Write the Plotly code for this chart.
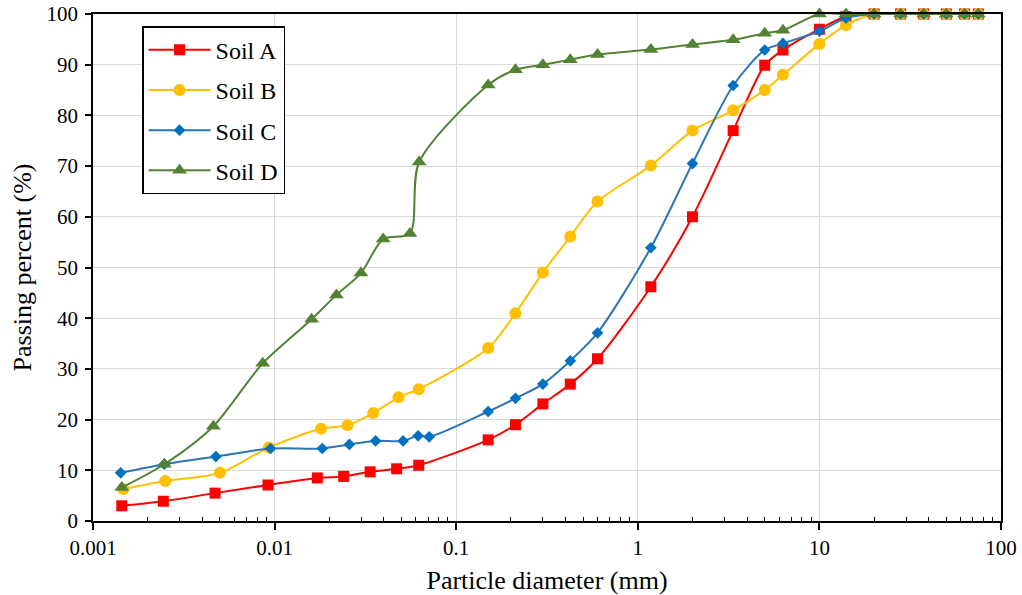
import plotly.graph_objects as go

# ---------------- data ----------------
soil_a_d = [0.00144, 0.00244, 0.0047, 0.0092, 0.0172, 0.024, 0.0336, 0.047, 0.0622,
            0.15, 0.212, 0.3, 0.425, 0.6, 1.18, 2, 3.35, 5, 6.3, 10, 14, 20, 28, 37.5, 50, 63, 75]
soil_a_p = [3.0, 3.9, 5.5, 7.1, 8.5, 8.8, 9.7, 10.3, 11.0,
            16.0, 19.0, 23.1, 27.0, 32.0, 46.2, 60.0, 77.0, 89.9, 92.9, 97.0, 99.5, 100, 100, 100, 100, 100, 100]

soil_b_d = [0.00147, 0.0025, 0.005, 0.0093, 0.018, 0.0252, 0.0349, 0.0481, 0.0622,
            0.15, 0.212, 0.3, 0.425, 0.6, 1.18, 2, 3.35, 5, 6.3, 10, 14, 20, 28, 37.5, 50, 63, 75]
soil_b_p = [6.3, 7.9, 9.5, 14.5, 18.2, 18.9, 21.3, 24.4, 26.0,
            34.1, 41.0, 49.0, 56.1, 63.0, 70.1, 77.0, 81.0, 85.0, 88.0, 94.1, 97.8, 100, 100, 100, 100, 100, 100]

soil_c_d = [0.00142, 0.00247, 0.00475, 0.0095, 0.0183, 0.0258, 0.036, 0.051, 0.0617, 0.071,
            0.15, 0.212, 0.3, 0.425, 0.6, 1.18, 2, 3.35, 5, 6.3, 10, 14, 20, 28, 37.5, 50, 63, 75]
soil_c_p = [9.5, 11.2, 12.7, 14.3, 14.3, 15.1, 15.8, 15.8, 16.8, 16.6,
            21.6, 24.2, 27.0, 31.6, 37.1, 53.9, 70.5, 85.9, 92.9, 94.2, 96.6, 99.2, 100, 100, 100, 100, 100, 100]

soil_d_d = [0.00144, 0.00247, 0.0046, 0.0086, 0.016, 0.0219, 0.0299, 0.0396, 0.0556, 0.0625,
            0.15, 0.212, 0.3, 0.425, 0.6, 1.18, 2, 3.35, 5, 6.3, 10, 14, 20, 28, 37.5, 50, 63, 75]
soil_d_p = [6.6, 11.2, 18.7, 31.1, 39.8, 44.6, 48.9, 55.6, 56.7, 70.8,
            86.0, 89.0, 90.0, 91.0, 92.0, 93.0, 94.0, 94.9, 96.2, 96.8, 100, 100, 100, 100, 100, 100, 100, 100]

x_tick_vals = [0.001, 0.01, 0.1, 1, 10, 100]
x_tick_text = ["0.001", "0.01", "0.1", "1", "10", "100"]
y_tick_vals = list(range(0, 101, 10))

series = [
    ("Soil A", soil_a_d, soil_a_p, "#FF0000", "#FF0000", "square", 11),
    ("Soil B", soil_b_d, soil_b_p, "#FFC000", "#FFC000", "circle", 12),
    ("Soil C", soil_c_d, soil_c_p, "#2E75B6", "#0070C0", "diamond", 9),
    ("Soil D", soil_d_d, soil_d_p, "#548235", "#548235", "triangle-up", 13),
]

FONT = "Liberation Serif"

fig = go.Figure()
for name, xd, yd, lc, mc, sym, sz in series:
    fig.add_trace(go.Scatter(
        x=xd, y=yd, name=name, mode="lines+markers",
        line=dict(color=lc, width=2, shape="spline", smoothing=0.8),
        marker=dict(symbol=sym, size=sz, color=mc, line=dict(width=0)),
        cliponaxis=False, legendgroup=name,
    ))

minor_vals = [m * 10.0 ** k for k in range(-3, 2) for m in range(2, 10)]

fig.update_layout(
    width=1022, height=595,
    margin=dict(l=93, r=21, t=14, b=74),
    paper_bgcolor="white", plot_bgcolor="white",
    font=dict(family=FONT, color="black", size=21),
    showlegend=True,
    legend=dict(
        x=0.054, y=0.976, xanchor="left", yanchor="top",
        bgcolor="white", bordercolor="black", borderwidth=1.5,
        font=dict(family=FONT, size=24, color="black"),
        itemwidth=62, tracegroupgap=6, entrywidth=89, entrywidthmode="pixels",
    ),
    xaxis=dict(
        type="log", range=[-3, 2], automargin=False,
        tickmode="array", tickvals=x_tick_vals, ticktext=x_tick_text,
        ticks="outside", ticklen=7, tickwidth=1.5, tickcolor="black",
        showline=True, linecolor="black", linewidth=1.5, mirror=True,
        showgrid=True, gridcolor="#d9d9d9", gridwidth=1.3,
        zeroline=False,
        minor=dict(tickmode="array", tickvals=minor_vals, ticks="inside",
                   ticklen=4, tickwidth=1, tickcolor="black", showgrid=False),
        tickfont=dict(family=FONT, size=21, color="black"),
        title=dict(text="Particle diameter (mm)", standoff=15,
                   font=dict(family=FONT, size=26, color="black")),
    ),
    yaxis=dict(
        range=[0, 100], tickmode="array", tickvals=y_tick_vals, automargin=False,
        ticks="outside", ticklen=6, tickwidth=1.5, tickcolor="black",
        showline=True, linecolor="black", linewidth=1.5, mirror=True,
        showgrid=True, gridcolor="#d9d9d9", gridwidth=1.3,
        zeroline=False, ticklabelstandoff=3,
        tickfont=dict(family=FONT, size=21, color="black"),
        title=dict(text="Passing percent (%)", standoff=7,
                   font=dict(family=FONT, size=26, color="black")),
    ),
)

fig.write_html("out.html",
               config={"displayModeBar": False},
               post_script="document.body.style.margin='0';document.body.style.overflow='hidden';")
